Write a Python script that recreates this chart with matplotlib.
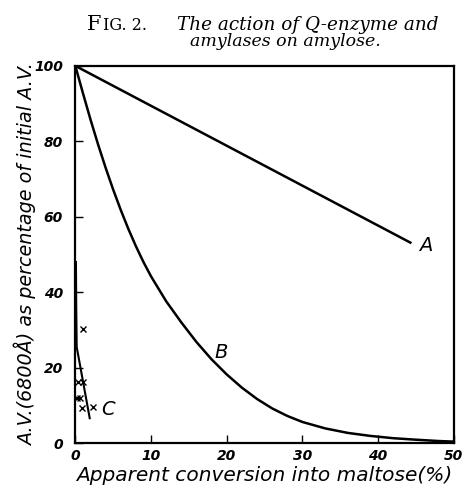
import matplotlib
matplotlib.use("Agg")
import matplotlib.pyplot as plt

# ---- data ----
a_x = [0, 44.4]
a_y = [100, 53]

b_x = [0, 1, 2, 3, 4, 5, 6, 7, 8, 9, 10, 12, 14, 16, 18, 20, 22, 24, 26, 28,
       30, 33, 36, 39, 42, 45, 48, 50]
b_y = [100, 92.8, 85.8, 79.2, 73.0, 67.2, 61.8, 56.8, 52.2, 48.0, 44.2, 37.6, 32.0,
       26.8, 22.2, 18.2, 14.7, 11.7, 9.2, 7.2, 5.6, 3.9, 2.7, 1.9, 1.3, 0.9, 0.55, 0.4]

c_x = [0.08, 0.12, 0.18, 1.9]
c_y = [48, 36, 25.5, 6.6]

cx_x = [0.95, 0.37, 0.95, 0.16, 0.68, 0.82, 2.3]
cx_y = [30.2, 16.3, 16.3, 11.9, 11.9, 9.2, 9.5]

x_ticks = [0, 10, 20, 30, 40, 50]
y_ticks = [0, 20, 40, 60, 80, 100]

fig = plt.figure(figsize=(4.65, 4.88), dpi=100)
ax = fig.add_axes([0.162, 0.092, 0.814, 0.773])

ax.plot(a_x, a_y, color="black", lw=1.8, solid_capstyle="butt")
ax.plot(b_x, b_y, color="black", lw=1.8)
ax.plot(c_x, c_y, color="black", lw=1.5)
ax.plot(cx_x, cx_y, ls="none", marker="x", ms=4, mew=1.0, color="black")

ax.set_xlim(0, 50)
ax.set_ylim(0, 100)

tick_font = dict(family="DejaVu Sans", style="oblique", weight="bold", size=10)
ax.set_xticks(x_ticks)
ax.set_xticklabels([str(t) for t in x_ticks], fontdict=tick_font)
ax.set_yticks(y_ticks)
ax.set_yticklabels([str(t) for t in y_ticks], fontdict=tick_font)
ax.tick_params(axis="both", direction="in", length=6, width=1.0, color="black")
ax.tick_params(axis="x", pad=4)
ax.tick_params(axis="y", pad=9)
for s in ax.spines.values():
    s.set_linewidth(1.6)

ax.set_xlabel("Apparent conversion into maltose(%)", family="DejaVu Sans",
              style="oblique", size=14.5, labelpad=2.5)
ax.set_ylabel("A.V.(6800\u00c5) as percentage of initial A.V.", family="DejaVu Sans",
              style="oblique", size=13.8, va="center")
ax.yaxis.set_label_coords(-0.131, 0.5)

lab = dict(family="DejaVu Sans", style="oblique", size=14, ha="center", va="center")
ax.text(46.3, 52.5, "A", **lab)
ax.text(19.3, 23.9, "B", **lab)
ax.text(4.3, 8.8, "C", **lab)

# title
t1 = fig.text(87 / 465, 1 - 30 / 488, "F", family="DejaVu Serif", size=15,
              ha="left", va="baseline")
ax.annotate("IG. 2.", xy=(1, 0), xycoords=t1, xytext=(0.8, 0), textcoords="offset points",
            family="DejaVu Serif", size=11.5, ha="left", va="bottom")
fig.text(307.5 / 465, 1 - 30 / 488, "The action of Q-enzyme and", family="DejaVu Serif",
         style="italic", size=13.2, ha="center", va="baseline")
fig.text(285 / 465, 1 - 45.5 / 488, "amylases on amylose.", family="DejaVu Serif",
         style="italic", size=12.5, ha="center", va="baseline")

fig.savefig("out.png", dpi=100)
